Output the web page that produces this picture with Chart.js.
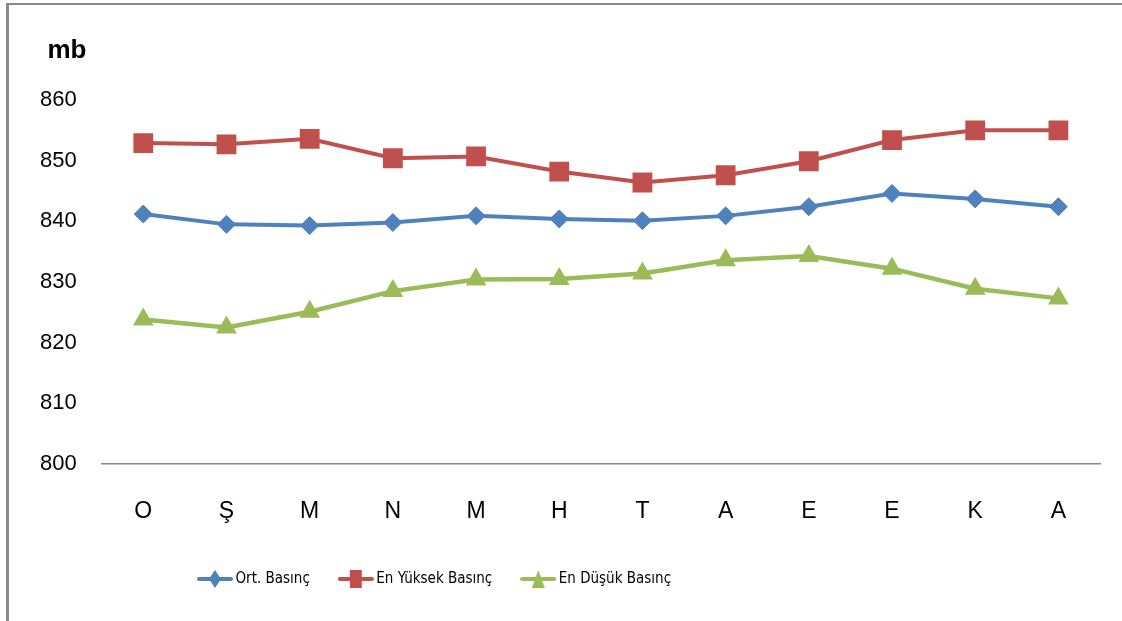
<!DOCTYPE html>
<html>
<head>
<meta charset="utf-8">
<script src="https://cdn.jsdelivr.net/npm/chart.js@4/dist/chart.umd.min.js"></script>
<style>
  body { margin: 0; background: #fff; overflow: hidden; }
  #wrap { position: relative; width: 1122px; height: 621px; }
  #frame {
    position: absolute; left: 6px; top: 3px; width: 1200px; height: 700px;
    border-left: 3px solid #8a8a8a; border-top: 2px solid #8a8a8a;
    pointer-events: none;
  }
  canvas { position: absolute; left: 0; top: 0; }
</style>
</head>
<body>
<div id="wrap">
  <canvas id="pressureChart" width="1122" height="621"></canvas>
  <div id="frame"></div>
</div>
<script>
const months = ["O", "Ş", "M", "N", "M", "H", "T", "A", "E", "E", "K", "A"];
const ortBasinc = [841.2, 839.5, 839.3, 839.8, 840.9, 840.4, 840.1, 840.9, 842.4, 844.6, 843.7, 842.4];
const enYuksekBasinc = [852.9, 852.7, 853.6, 850.4, 850.7, 848.2, 846.4, 847.6, 849.9, 853.4, 855.0, 855.0];
const enDusukBasinc = [823.8, 822.5, 825.1, 828.5, 830.4, 830.5, 831.4, 833.6, 834.3, 832.2, 828.9, 827.3];
const yMin = 800;
const yMax = 860;
const yStep = 10;
const unitLabel = "mb";

const BLUE = "#4f81bd";
const RED = "#c0504d";
const GREEN = "#9bbb59";

// legend icon: short line with the marker in the middle
function makeIcon(color, shape) {
  const c = document.createElement("canvas");
  c.width = 36;
  c.height = 20;
  const g = c.getContext("2d");
  g.strokeStyle = color;
  g.fillStyle = color;
  g.lineWidth = 4;
  g.lineCap = "round";
  g.beginPath();
  g.moveTo(2, 10);
  g.lineTo(34, 10);
  g.stroke();
  g.beginPath();
  if (shape === "diamond") {
    g.moveTo(18, 1); g.lineTo(24, 10); g.lineTo(18, 19); g.lineTo(12, 10);
  } else if (shape === "square") {
    g.rect(12, 1, 12, 18);
  } else {
    g.moveTo(18, 1); g.lineTo(24.5, 19); g.lineTo(11.5, 19);
  }
  g.closePath();
  g.fill();
  return c;
}

const icons = [makeIcon(BLUE, "diamond"), makeIcon(RED, "square"), makeIcon(GREEN, "triangle")];

const unitTitle = {
  id: "unitTitle",
  afterDraw(chart) {
    const ctx = chart.ctx;
    ctx.save();
    ctx.font = "bold 26px 'Liberation Sans', Arial, sans-serif";
    ctx.fillStyle = "#000";
    ctx.textAlign = "center";
    ctx.textBaseline = "middle";
    ctx.fillText(unitLabel, 67, 51);
    ctx.restore();
  },
};

// shift the legend so it starts under the left part of the plot, as in the original
const legendShift = {
  id: "legendShift",
  afterLayout(chart) {
    chart.legend.left = 169;
  },
};

new Chart(document.getElementById("pressureChart"), {
  type: "line",
  data: {
    labels: months,
    datasets: [
      {
        label: "Ort. Basınç",
        data: ortBasinc,
        borderColor: BLUE,
        backgroundColor: BLUE,
        borderWidth: 4,
        pointStyle: "rectRot",
        pointRadius: 9,
        pointBorderWidth: 1,
        pointBackgroundColor: BLUE,
        pointBorderColor: BLUE,
      },
      {
        label: "En Yüksek Basınç",
        data: enYuksekBasinc,
        borderColor: RED,
        backgroundColor: RED,
        borderWidth: 4,
        pointStyle: "rect",
        pointRadius: 14,
        pointBorderWidth: 0,
        pointBackgroundColor: RED,
        pointBorderColor: RED,
      },
      {
        label: "En Düşük Basınç",
        data: enDusukBasinc,
        borderColor: GREEN,
        backgroundColor: GREEN,
        borderWidth: 4.5,
        pointStyle: "triangle",
        pointRadius: 12,
        pointBorderWidth: 0,
        pointBackgroundColor: GREEN,
        pointBorderColor: GREEN,
      },
    ],
  },
  options: {
    responsive: false,
    animation: false,
    layout: {
      padding: { left: 0, right: 22, top: 100, bottom: 24.5 },
    },
    scales: {
      x: {
        offset: true,
        grid: { display: false, drawTicks: false },
        border: { display: true, color: "#868686", width: 1.5 },
        ticks: {
          color: "#000",
          padding: 34,
          maxRotation: 0,
          font: { family: "'Liberation Sans', Arial, sans-serif", size: 23 },
        },
        afterFit(scale) {
          scale.height = 74.5;
        },
      },
      y: {
        min: yMin,
        max: yMax,
        grid: { display: false, drawTicks: false },
        border: { display: false },
        ticks: {
          stepSize: yStep,
          color: "#000",
          padding: 25,
          font: { family: "'Liberation Sans', Arial, sans-serif", size: 22 },
        },
        afterFit(scale) {
          scale.width = 101.7;
        },
      },
    },
    plugins: {
      tooltip: { enabled: false },
      legend: {
        position: "bottom",
        align: "start",
        labels: {
          color: "#000",
          usePointStyle: true,
          pointStyleWidth: 26,
          padding: 33,
          font: { family: "'DejaVu Sans Condensed', 'DejaVu Sans', sans-serif", size: 15 },
          generateLabels(chart) {
            return chart.data.datasets.map((ds, i) => ({
              text: ds.label,
              pointStyle: icons[i],
              fillStyle: ds.borderColor,
              strokeStyle: ds.borderColor,
              lineWidth: 0,
              hidden: false,
              datasetIndex: i,
              fontColor: "#000",
            }));
          },
        },
      },
    },
  },
  plugins: [unitTitle, legendShift],
});
</script>
</body>
</html>
